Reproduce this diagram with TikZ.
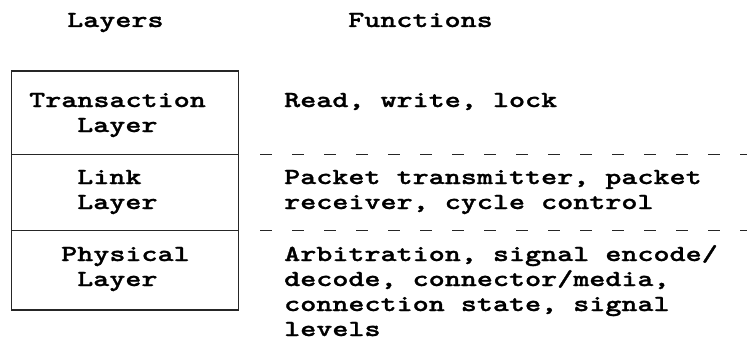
\documentclass[tikz,border=0pt]{standalone}
\usepackage{fontspec}
\newfontfamily\pixfont{lmmonolt10-bold}[Extension=.otf,FakeStretch=1.33,FakeBold=1.2]
\begin{document}
\begin{tikzpicture}[x=1pt,y=-1pt,
  txt/.style={anchor=base west,inner sep=0pt,font=\pixfont\fontsize{23}{25}\selectfont},
  boxline/.style={line width=1.3pt,draw=black!85},
  sepline/.style={line width=1.3pt,draw=black!85,dash pattern=on 11.7pt off 20.3pt}]
\useasboundingbox (0,0) rectangle (747,340);
% box
\draw[boxline] (11.7,71) rectangle (238.5,310);
\coordinate (d1l) at (11.7,154.3);
\coordinate (d1r) at (238.5,154.3);
\coordinate (d2l) at (11.7,230.7);
\coordinate (d2r) at (238.5,230.7);
\draw[boxline] (d1l) -- (d1r);
\draw[boxline] (d2l) -- (d2r);
% dashed separators
\coordinate (s1a) at (260,154.3);
\coordinate (s1b) at (752,154.3);
\coordinate (s2a) at (260,230.7);
\coordinate (s2b) at (752,230.7);
\draw[sepline] (s1a) -- (s1b);
\draw[sepline] (s2a) -- (s2b);
% headers
\node[txt] (hl) at (67,27) {Layers};
\node[txt] (hf) at (348,27) {Functions};
% layer names
\node[txt] (t1) at (29,107) {Transaction};
\node[txt] (t2) at (77,132) {Layer};
\node[txt] (l1) at (77,184) {Link};
\node[txt] (l2) at (77,209) {Layer};
\node[txt] (p1) at (61,261) {Physical};
\node[txt] (p2) at (77,286) {Layer};
% functions
\node[txt] (f1) at (284,107) {Read, write, lock};
\node[txt] (f2) at (284,184) {Packet transmitter, packet};
\node[txt] (f3) at (284,209) {receiver, cycle control};
\node[txt] (f4) at (284,261) {Arbitration, signal encode/};
\node[txt] (f5) at (284,286) {decode, connector/media,};
\node[txt] (f6) at (284,311) {connection state, signal};
\node[txt] (f7) at (284,336) {levels};
\end{tikzpicture}
\end{document}
